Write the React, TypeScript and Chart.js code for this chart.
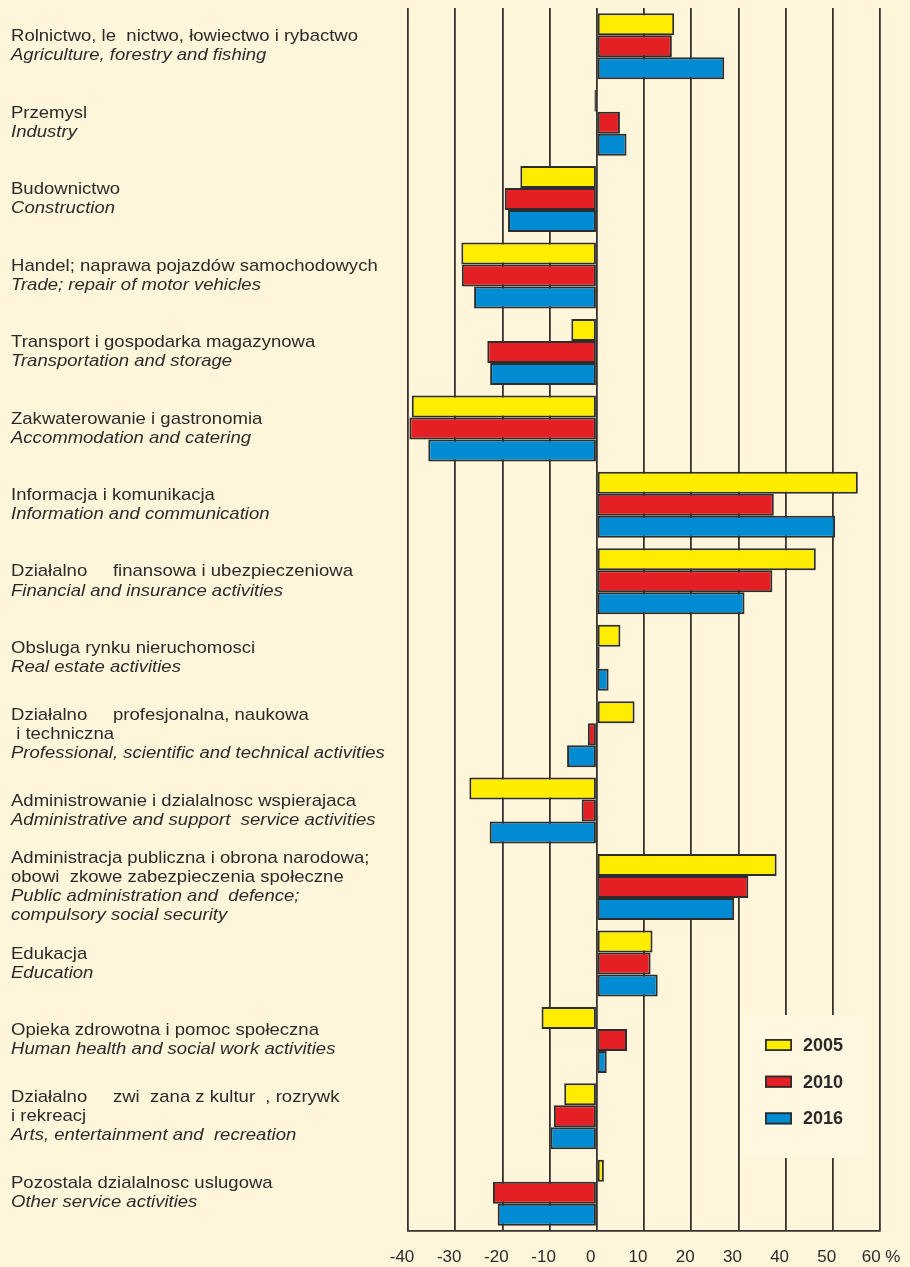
import React, { useEffect, useRef } from 'react';
import { Chart, registerables } from 'chart.js';

Chart.register(...registerables);

const polishLabels: string[][] = [
  ['Rolnictwo, le  nictwo, łowiectwo i rybactwo'],
  ['Przemysl'],
  ['Budownictwo'],
  ['Handel; naprawa pojazdów samochodowych'],
  ['Transport i gospodarka magazynowa'],
  ['Zakwaterowanie i gastronomia'],
  ['Informacja i komunikacja'],
  ['Działalno     finansowa i ubezpieczeniowa'],
  ['Obsluga rynku nieruchomosci'],
  ['Działalno     profesjonalna, naukowa', ' i techniczna'],
  ['Administrowanie i dzialalnosc wspierajaca'],
  ['Administracja publiczna i obrona narodowa;', 'obowi  zkowe zabezpieczenia społeczne'],
  ['Edukacja'],
  ['Opieka zdrowotna i pomoc społeczna'],
  ['Działalno     zwi  zana z kultur  , rozrywk', 'i rekreacj'],
  ['Pozostala dzialalnosc uslugowa'],
];

const englishLabels: string[][] = [
  ['Agriculture, forestry and fishing'],
  ['Industry'],
  ['Construction'],
  ['Trade; repair of motor vehicles'],
  ['Transportation and storage'],
  ['Accommodation and catering'],
  ['Information and communication'],
  ['Financial and insurance activities'],
  ['Real estate activities'],
  ['Professional, scientific and technical activities'],
  ['Administrative and support  service activities'],
  ['Public administration and  defence;', 'compulsory social security'],
  ['Education'],
  ['Human health and social work activities'],
  ['Arts, entertainment and  recreation'],
  ['Other service activities'],
];

const years = ['2005', '2010', '2016'];
const values2005 = [16.4, -0.5, -16.2, -28.7, -5.4, -39.2, 55.3, 46.4, 5.0, 8.0, -27.0, 38.1, 11.8, -11.7, -6.9, 1.5];
const values2010 = [15.9, 4.9, -19.5, -28.6, -23.2, -39.7, 37.5, 37.2, 0.6, -1.9, -3.2, 32.1, 11.4, 6.4, -9.1, -22.0];
const values2016 = [27.0, 6.3, -18.8, -26.0, -22.6, -35.7, 50.5, 31.3, 2.5, -6.3, -22.7, 29.1, 12.9, 2.1, -9.8, -21.0];
const tickLabels = ['-40', '-30', '-20', '-10', '0', '10', '20', '30', '40', '50', '   60 %'];
const seriesColors = ['#FFED00', '#E42024', '#008BD2'];

const BG = '#FFF5DB';
const INK = '#2B2A29';
const LINE = '#35322F';

const labelPlugin = {
  id: 'categoryLabels',
  beforeDatasetsDraw(chart: any) {
    const ctx = chart.ctx as CanvasRenderingContext2D;
    // legend box (covers grid lines)
    const bx = 744, by = 1015, bw = 124, bh = 143;
    ctx.save();
    ctx.fillStyle = '#FFF7E0';
    ctx.fillRect(bx, by, bw, bh);
    ctx.restore();
  },
  afterDraw(chart: any) {
    const ctx = chart.ctx as CanvasRenderingContext2D;
    const yScale = chart.scales.y;
    const lineH = 19;
    ctx.save();
    ctx.fillStyle = INK;
    ctx.textBaseline = 'middle';
    ctx.textAlign = 'left';
    chart.data.labels.forEach((_: any, i: number) => {
      const pl = polishLabels[i];
      const en = englishLabels[i];
      const lines: { t: string; it: boolean }[] = [
        ...pl.map((t) => ({ t, it: false })),
        ...en.map((t) => ({ t, it: true })),
      ];
      const cy = yScale.getPixelForValue(i);
      const y0 = cy - ((lines.length - 1) * lineH) / 2;
      lines.forEach((ln, k) => {
        ctx.font = (ln.it ? 'italic ' : '') + '17px "Liberation Sans", Arial, sans-serif';
        ctx.save();
        ctx.translate(11, y0 + k * lineH);
        ctx.scale(1.09, 1);
        ctx.fillText(ln.t, 0, 0);
        ctx.restore();
      });
    });
    // legend
    const sx = 765, sw = 27, sh = 12;
    const centers = [1045, 1081.7, 1118.4];
    chart.data.datasets.forEach((ds: any, i: number) => {
      const cyy = centers[i];
      ctx.fillStyle = ds.backgroundColor;
      ctx.fillRect(sx, cyy - sh / 2, sw, sh);
      ctx.strokeStyle = '#2D2D2D';
      ctx.lineWidth = 1.8;
      ctx.strokeRect(sx + 0.9, cyy - sh / 2 + 0.9, sw - 1.8, sh - 1.8);
      ctx.fillStyle = INK;
      ctx.font = 'bold 18px "Liberation Sans", Arial, sans-serif';
      ctx.fillText(ds.label, 803, cyy + 1);
    });
    ctx.restore();
  },
};

export default function App() {
  const ref = useRef<HTMLCanvasElement | null>(null);

  useEffect(() => {
    document.body.style.margin = '0';
    document.body.style.background = BG;
    const canvas = ref.current;
    if (!canvas) return;
    const chart = new Chart(canvas, {
      type: 'bar',
      data: {
        labels: englishLabels.map((l) => l.join(' ')),
        datasets: [values2005, values2010, values2016].map((vals, i) => ({
          label: years[i],
          data: vals,
          backgroundColor: seriesColors[i],
          borderColor: '#2D2D2D',
          borderWidth: 2,
          borderSkipped: false,
          categoryPercentage: 0.864,
          barPercentage: 1.0,
        })),
      },
      options: {
        indexAxis: 'y',
        animation: false,
        responsive: false,
        maintainAspectRatio: false,
        layout: { padding: { left: 408, right: 30, top: 8, bottom: 0 } },
        plugins: {
          legend: { display: false },
          tooltip: { enabled: false },
        },
        scales: {
          y: {
            display: false,
            grid: { display: false },
          },
          x: {
            type: 'linear',
            min: -40,
            max: 60,
            afterFit: (s: any) => {
              s.height = 36;
              s.paddingLeft = 0;
              s.paddingRight = 0;
            },
            afterBuildTicks: (s: any) => {
              s.ticks = tickLabels.map((_, i) => ({ value: -40 + i * 10 }));
            },
            ticks: {
              callback: (_v: any, i: number) => tickLabels[i],
              color: INK,
              font: { size: 17, family: '"Liberation Sans", Arial, sans-serif' },
              padding: 16,
              labelOffset: -6,
              maxRotation: 0,
              autoSkip: false,
            },
            grid: {
              color: LINE,
              lineWidth: 1.8,
              drawTicks: false,
            },
            border: { display: true, color: LINE, width: 1.8 },
          },
        },
      },
      plugins: [labelPlugin],
    } as any);
    return () => chart.destroy();
  }, []);

  return (
    <div style={{ position: 'absolute', left: 0, top: 0, width: 910, height: 1267, background: BG }}>
      <canvas ref={ref} width={910} height={1267} style={{ display: 'block', width: 910, height: 1267 }} />
    </div>
  );
}
